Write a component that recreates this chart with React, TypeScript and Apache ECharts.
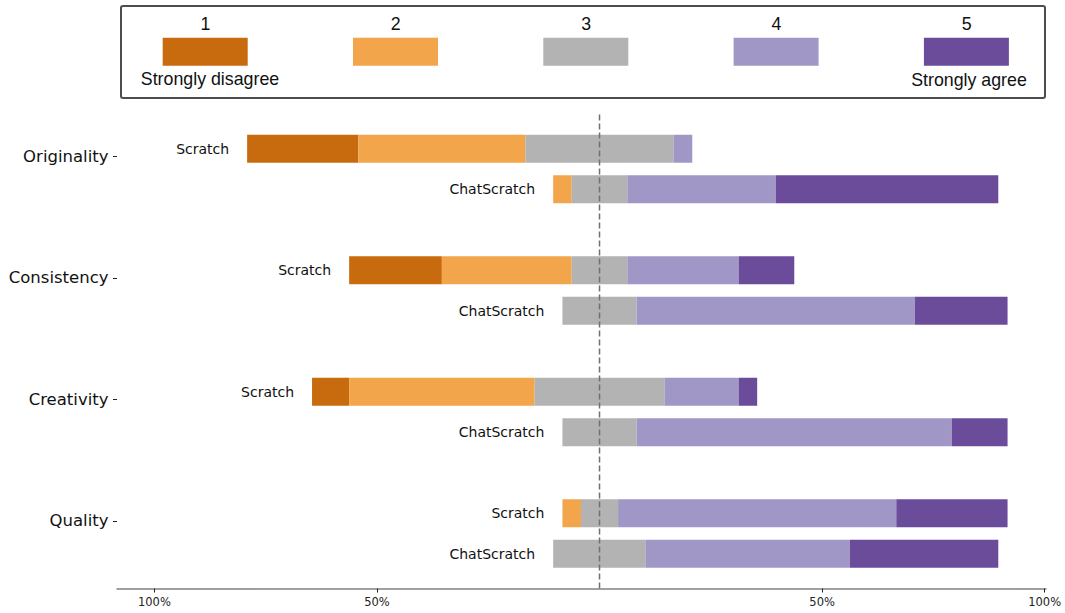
import React, { useEffect, useRef } from "react";
import * as echarts from "echarts";

// ---- data ----
const aspects = ["Originality", "Consistency", "Creativity", "Quality"];
const tools = ["Scratch", "ChatScratch"];
const levels = ["1", "2", "3", "4", "5"];
const levelColors = ["#C86B0E", "#F2A54B", "#B3B3B3", "#A097C6", "#6A4C9B"];
const respondents = 24;
// counts per aspect for levels 1..5
const scratchCounts = [
  [6, 9, 8, 1, 0],
  [5, 7, 3, 6, 3],
  [2, 10, 7, 4, 1],
  [0, 1, 2, 15, 6],
];
const chatScratchCounts = [
  [0, 1, 3, 8, 12],
  [0, 0, 4, 15, 5],
  [0, 0, 4, 17, 3],
  [0, 0, 5, 11, 8],
];
const tickValues = [-100, -50, 50, 100];

// ---- derived rows (tool bars + spacer rows between aspects) ----
type Row = { key: string; tool: string; pct: number[] | null };
const rows: Row[] = [];
aspects.forEach((a, i) => {
  [scratchCounts[i], chatScratchCounts[i]].forEach((counts, t) => {
    rows.push({
      key: a + "-" + tools[t],
      tool: tools[t],
      pct: counts.map((c) => (c / respondents) * 100),
    });
  });
  if (i < aspects.length - 1) rows.push({ key: "gap-" + i, tool: "", pct: null });
});
const aspectPos = aspects.map((_, i) => i * 3 + 0.19);

const DEJAVU = "DejaVu Sans";
const ARIAL = "Liberation Sans, Arial, sans-serif";
const XMIN = -108.4;
const XMAX = 100.3;

export default function App() {
  const ref = useRef<HTMLDivElement>(null);
  useEffect(() => {
    if (!ref.current) return;
    const chart = echarts.init(ref.current, null, { renderer: "svg" });

    const offsetData = rows.map((r) =>
      r.pct ? -(r.pct[0] + r.pct[1] + r.pct[2] / 2) : null
    );

    const levelSeries = levels.map((lv, li) => ({
      name: lv,
      type: "bar",
      stack: "total",
      stackStrategy: "all",
      barWidth: 28,
      xAxisIndex: 0,
      yAxisIndex: 0,
      itemStyle: { color: levelColors[li] },
      data: rows.map((r) => (r.pct ? r.pct[li] : null)),
    }));

    const option: any = {
      animation: false,
      grid: [
        { left: 117, right: 19, top: 128.5, height: 445.5 },
        { left: 117, right: 19, top: 113, height: 475.5 },
      ],
      xAxis: [
        {
          type: "value",
          gridIndex: 0,
          min: XMIN,
          max: XMAX,
          position: "bottom",
          offset: 14.5,
          splitLine: { show: false },
          axisLine: { show: true, onZero: false, lineStyle: { color: "#808080", width: 1.5 } },
          axisTick: {
            show: true,
            customValues: tickValues,
            length: 4,
            lineStyle: { color: "#222" },
          },
          axisLabel: {
            customValues: tickValues,
            formatter: (v: number) => Math.abs(v) + "%",
            fontFamily: DEJAVU,
            fontSize: 11.5,
            color: "#222",
            margin: 7.5,
          },
        },
        { type: "value", gridIndex: 1, min: XMIN, max: XMAX, show: false },
      ],
      yAxis: [
        {
          type: "category",
          gridIndex: 0,
          data: rows.map((r) => r.key),
          inverse: true,
          show: false,
        },
        {
          type: "value",
          gridIndex: 0,
          min: -0.5,
          max: 10.5,
          inverse: true,
          position: "left",
          axisLine: { show: false, onZero: false },
          splitLine: { show: false },
          axisTick: {
            show: true,
            customValues: aspectPos,
            length: 4,
            lineStyle: { color: "#222" },
          },
          axisLabel: {
            customValues: aspectPos,
            formatter: (v: number) => aspects[Math.round((v - 0.19) / 3)] || "",
            fontFamily: DEJAVU,
            fontSize: 16.5,
            color: "#111",
            margin: 8.5,
          },
        },
        { type: "value", gridIndex: 1, min: 0, max: 1, show: false },
      ],
      series: [
        {
          name: "offset",
          type: "bar",
          stack: "total",
          stackStrategy: "all",
          barWidth: 28,
          xAxisIndex: 0,
          yAxisIndex: 0,
          silent: true,
          itemStyle: { color: "transparent" },
          label: {
            show: true,
            position: "left",
            distance: 18,
            formatter: (p: any) => rows[p.dataIndex].tool,
            fontFamily: DEJAVU,
            fontSize: 14,
            color: "#111",
          },
          data: offsetData,
        },
        ...levelSeries,
        {
          name: "center",
          type: "line",
          xAxisIndex: 1,
          yAxisIndex: 2,
          symbol: "none",
          z: 10,
          lineStyle: { color: "#707070", width: 1.5, type: [6, 3] },
          data: [
            [0, 0],
            [0, 1],
          ],
        },
      ],
      graphic: [
        {
          type: "rect",
          shape: { x: 121, y: 6, width: 924, height: 92, r: 2 },
          style: { fill: "#fff", stroke: "#4d4d4d", lineWidth: 2 },
        },
        ...levels.map((lv, i) => ({
          type: "rect",
          shape: { x: 162.7 + i * 190.3, y: 37.7, width: 85, height: 28 },
          style: { fill: levelColors[i] },
        })),
        ...levels.map((lv, i) => ({
          type: "text",
          x: 205.5 + i * 190.3,
          y: 24,
          style: {
            text: lv,
            textAlign: "center",
            textVerticalAlign: "middle",
            fontFamily: ARIAL,
            fontSize: 17.8,
            fill: "#111",
          },
        })),
        {
          type: "text",
          x: 210,
          y: 78.5,
          style: {
            text: "Strongly disagree",
            textAlign: "center",
            textVerticalAlign: "middle",
            fontFamily: ARIAL,
            fontSize: 17.8,
            fill: "#111",
          },
        },
        {
          type: "text",
          x: 969,
          y: 80,
          style: {
            text: "Strongly agree",
            textAlign: "center",
            textVerticalAlign: "middle",
            fontFamily: ARIAL,
            fontSize: 17.8,
            fill: "#111",
          },
        },
      ],
    };
    chart.setOption(option);
    return () => chart.dispose();
  }, []);
  return (
    <div
      ref={ref}
      style={{ position: "fixed", left: 0, top: 0, width: 1065, height: 613, background: "#fff" }}
    />
  );
}
